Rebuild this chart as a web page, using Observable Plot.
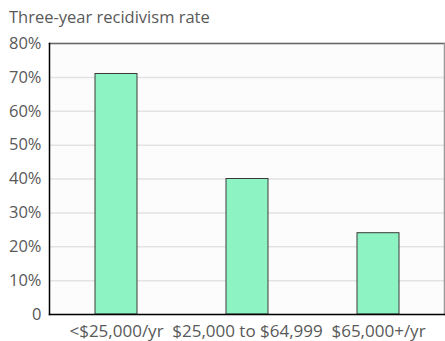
<!DOCTYPE html>
<html><head><meta charset="utf-8">
<script src="https://cdn.jsdelivr.net/npm/d3@7"></script>
<script src="https://cdn.jsdelivr.net/npm/@observablehq/plot@0.6"></script>
<style>
body{margin:0;background:#fff;font-family:"Open Sans",sans-serif}
#title{height:30px;box-sizing:border-box;padding:7px 0 0 9px;font-size:16.5px;line-height:20px;color:#595959;white-space:nowrap}
</style></head><body>
<div id="title">Three-year recidivism rate</div>
<div id="chart"></div>
<script>
const categories = ["<$25,000/yr", "$25,000 to $64,999", "$65,000+/yr"];
const rates = [0.71, 0.40, 0.24];
const yTicks = [0, 0.1, 0.2, 0.3, 0.4, 0.5, 0.6, 0.7, 0.8];
const data = categories.map((c, i) => ({category: c, rate: rates[i]}));

const chart = Plot.plot({
  width: 445, height: 311,
  marginLeft: 49, marginRight: 1, marginTop: 13, marginBottom: 27,
  style: {fontFamily: "'Open Sans', sans-serif", fontSize: "16.5px", color: "#595959", background: "transparent"},
  x: {domain: categories, paddingInner: 0.68, paddingOuter: 0.34},
  y: {domain: [0, 0.8]},
  marks: [
    Plot.frame({fill: "#fcfcfc", stroke: null}),
    Plot.gridY(yTicks, {stroke: "#e3e3e3", strokeOpacity: 1, strokeWidth: 1.5}),
    Plot.barY(data, {x: "category", y: "rate", fill: "#8ef3c2", stroke: "#3a3a3a", strokeWidth: 1}),
    Plot.frame({anchor: "top", stroke: "#666", strokeWidth: 1.5}),
    Plot.frame({anchor: "right", stroke: "#999", strokeWidth: 1.5}),
    Plot.frame({anchor: "left", stroke: "#000", strokeWidth: 1.5}),
    Plot.frame({anchor: "bottom", stroke: "#000", strokeWidth: 1.5}),
    Plot.axisX({fontSize: 17, tickSize: 0, tickPadding: 10, label: null}),
    Plot.axisY({ticks: yTicks, tickFormat: d => d === 0 ? "0" : Math.round(d * 100) + "%", fontSize: 16.5, tickSize: 0, tickPadding: 8, label: null})
  ]
});
document.getElementById("chart").appendChild(chart);
</script>
</body></html>
